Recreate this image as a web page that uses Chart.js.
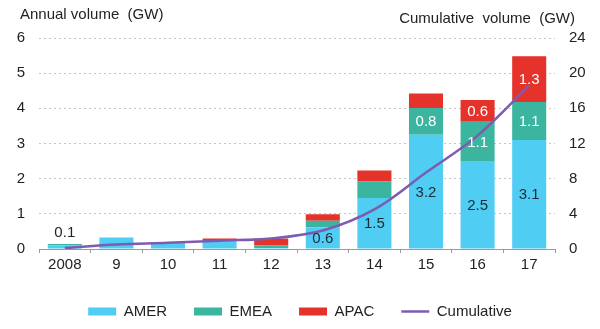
<!DOCTYPE html>
<html>
<head>
<meta charset="utf-8">
<script src="https://cdn.jsdelivr.net/npm/chart.js@4"></script>
<style>
  html, body { margin: 0; padding: 0; background: #fff; }
  #wrap { width: 600px; height: 329px; position: relative; }
</style>
</head>
<body>
<div id="wrap"><canvas id="chart"></canvas></div>
<script>
// ===== Data =====
const years = ['2008', '9', '10', '11', '12', '13', '14', '15', '16', '17'];
const amer = [0.10, 0.33, 0.18, 0.24, 0.03, 0.61, 1.45, 3.25, 2.5, 3.1];
const emea = [0.04, 0.00, 0.01, 0.00, 0.07, 0.19, 0.47, 0.76, 1.12, 1.08];
const apac = [0.00, 0.00, 0.00, 0.06, 0.20, 0.19, 0.31, 0.41, 0.62, 1.3];
const cumulative = [0.1, 0.5, 0.7, 0.95, 1.2, 2.1, 4.5, 8.7, 12.9, 18.6];

const amerLabels = ['0.1', '', '', '', '', '0.6', '1.5', '3.2', '2.5', '3.1'];
const emeaLabels = ['', '', '', '', '', '', '', '0.8', '1.1', '1.1'];
const apacLabels = ['', '', '', '', '', '', '', '', '0.6', '1.3'];

const leftTicks = [0, 1, 2, 3, 4, 5, 6];
const rightTicks = [0, 4, 8, 12, 16, 20, 24];

// ===== Colors / fonts =====
const C_AMER = '#4fcdf3';
const C_EMEA = '#3bb59f';
const C_APAC = '#e5322b';
const C_LINE = '#7d5bb1';
const FONT = 'Arial, "Liberation Sans", sans-serif';

// ===== Plugins =====
const barLabels = {
    id: 'barLabels',
    afterDatasetsDraw(chart) {
        const ctx = chart.ctx;
        ctx.save();
        ctx.font = '15px ' + FONT;
        ctx.textAlign = 'center';
        ctx.textBaseline = 'middle';
        chart.data.datasets.forEach((ds, di) => {
            if (!ds.valueLabels) return;
            const meta = chart.getDatasetMeta(di);
            meta.data.forEach((el, i) => {
                const txt = ds.valueLabels[i];
                if (!txt) return;
                const h = Math.abs(el.base - el.y);
                if (h < 14) {
                    // too small: put it above the stack
                    const top = chart.getDatasetMeta(2).data[i].y;
                    ctx.fillStyle = '#222';
                    ctx.fillText(txt, el.x, Math.min(el.y, top) - 11);
                } else {
                    ctx.fillStyle = ds.labelColor;
                    ctx.fillText(txt, el.x, (el.y + el.base) / 2 + 1);
                }
            });
        });
        ctx.restore();
    }
};

const axisTitles = {
    id: 'axisTitles',
    afterDraw(chart) {
        const ctx = chart.ctx;
        ctx.save();
        ctx.font = '15px ' + FONT;
        ctx.fillStyle = '#222';
        ctx.textBaseline = 'middle';
        ctx.textAlign = 'left';
        ctx.fillText('Annual volume  (GW)', 20, 15);
        ctx.textAlign = 'right';
        ctx.fillText('Cumulative  volume  (GW)', 575, 19);
        ctx.restore();
    }
};

// ===== Chart =====
new Chart(document.getElementById('chart'), {
    data: {
        labels: years,
        datasets: [
            { type: 'line', label: 'Cumulative', data: cumulative, yAxisID: 'y2',
              borderColor: C_LINE, backgroundColor: C_LINE, borderWidth: 2.5,
              pointRadius: 0, tension: 0.35, order: 0, pointStyle: 'line' },
            { type: 'bar', label: 'AMER', data: amer, backgroundColor: C_AMER,
              valueLabels: amerLabels, labelColor: '#1d2b38', order: 1, pointStyle: 'rect' },
            { type: 'bar', label: 'EMEA', data: emea, backgroundColor: C_EMEA,
              valueLabels: emeaLabels, labelColor: '#ffffff', order: 1, pointStyle: 'rect' },
            { type: 'bar', label: 'APAC', data: apac, backgroundColor: C_APAC,
              valueLabels: apacLabels, labelColor: '#ffffff', order: 1, pointStyle: 'rect' }
        ]
    },
    options: {
        responsive: true,
        maintainAspectRatio: false,
        animation: false,
        layout: { padding: { top: 38, left: 0, right: 0, bottom: 0 } },
        datasets: { bar: { barPercentage: 0.66, categoryPercentage: 1 } },
        scales: {
            x: {
                stacked: true,
                offset: true,
                grid: { display: true, drawOnChartArea: false, offset: true, tickLength: 4, color: '#9a9a9a' },
                border: { display: true, color: '#9a9a9a' },
                ticks: { color: '#222', font: { family: FONT, size: 15 }, padding: 3, maxRotation: 0 }
            },
            y: {
                stacked: true,
                position: 'left',
                min: 0, max: 6,
                afterBuildTicks: s => { s.ticks = leftTicks.map(v => ({ value: v })); },
                afterFit: s => { s.width = 39; },
                grid: { color: '#c4c4c4', drawTicks: false, lineWidth: 1 },
                border: { display: false, dash: [2, 3] },
                ticks: { color: '#222', font: { family: FONT, size: 15 }, padding: 14 }
            },
            y2: {
                position: 'right',
                min: 0, max: 24,
                afterBuildTicks: s => { s.ticks = rightTicks.map(v => ({ value: v })); },
                afterFit: s => { s.width = 45; },
                grid: { display: false, drawTicks: false },
                border: { display: false },
                ticks: { color: '#222', font: { family: FONT, size: 15 }, padding: 14 }
            }
        },
        plugins: {
            legend: {
                position: 'bottom',
                labels: {
                    usePointStyle: true,
                    pointStyleWidth: 28,
                    boxHeight: 8,
                    padding: 27,
                    color: '#222',
                    font: { family: FONT, size: 15 },
                    sort: (a, b) => {
                        const order = ['AMER', 'EMEA', 'APAC', 'Cumulative'];
                        return order.indexOf(a.text) - order.indexOf(b.text);
                    }
                }
            },
            tooltip: { enabled: false }
        }
    },
    plugins: [barLabels, axisTitles]
});
</script>
</body>
</html>
